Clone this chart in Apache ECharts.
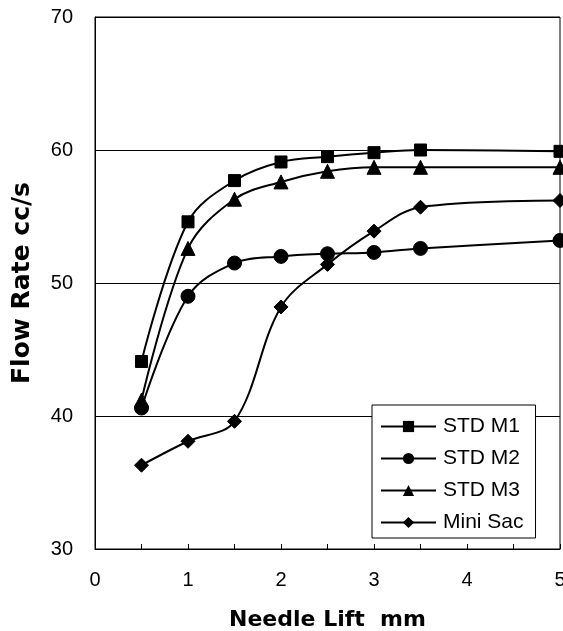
<!DOCTYPE html>
<html><head><meta charset="utf-8">
<script src="https://cdn.jsdelivr.net/npm/echarts@6/dist/echarts.min.js"></script>
<style>html,body{margin:0;padding:0;background:#fff}#c{width:563px;height:631px}</style>
</head><body><div id="c"></div>
<script>
var lift = [0.5, 1, 1.5, 2, 2.5, 3, 3.5, 5];
var stdM1 = [44.1, 54.6, 57.7, 59.1, 59.5, 59.8, 60.0, 59.9];
var stdM2 = [40.6, 49.0, 51.5, 52.0, 52.2, 52.3, 52.6, 53.2];
var stdM3 = [41.2, 52.6, 56.3, 57.6, 58.4, 58.7, 58.7, 58.7];
var miniSac = [36.3, 38.1, 39.6, 48.2, 51.4, 53.9, 55.7, 56.2];
var names = ['STD M1', 'STD M2', 'STD M3', 'Mini Sac'];
var symbols = ['rect', 'circle', 'triangle', 'diamond'];
var sizes = [12, 14, 14, 14];
var all = [stdM1, stdM2, stdM3, miniSac];

function pairs(v){ return lift.map(function(x,i){return [x, v[i]];}); }

var font = 'Liberation Sans, Arial, sans-serif';
var titleFont = 'DejaVu Sans, Liberation Sans, sans-serif';
var chart = echarts.init(document.getElementById('c'));
chart.setOption({
  backgroundColor: '#fff',
  animation: false,
  grid: {left: 95, right: 3, top: 17, bottom: 82, show: true, borderColor: '#000', borderWidth: 1,
         backgroundColor: 'transparent', outerBoundsMode: 'none', containLabel: false},
  legend: {
    orient: 'vertical', left: 372, top: 405,
    data: names,
    itemWidth: 55, itemHeight: 14, itemGap: 11,
    borderColor: '#000', borderWidth: 1, backgroundColor: '#fff',
    padding: [11, 12, 5, 8],
    textStyle: {fontFamily: font, fontSize: 21, color: '#000', padding: [0, 0, 0, 2]}
  },
  xAxis: {
    type: 'value', min: 0, max: 5, interval: 1,
    name: 'Needle Lift  mm', nameLocation: 'middle', nameGap: 60,
    nameTextStyle: {fontFamily: titleFont, fontSize: 22, fontWeight: 'bold', color: '#000'},
    axisLine: {lineStyle: {color: '#000', width: 1}},
    axisTick: {show: true, inside: true, length: 5, lineStyle: {color: '#000'}},
    minorTick: {show: true, splitNumber: 2, length: 5, lineStyle: {color: '#000'}},
    axisLabel: {fontFamily: font, fontSize: 20, color: '#000', margin: 21},
    splitLine: {show: false}
  },
  yAxis: {
    type: 'value', min: 30, max: 70, interval: 10,
    name: 'Flow Rate cc/s', nameLocation: 'middle', nameGap: 60,
    nameTextStyle: {fontFamily: titleFont, fontSize: 25, fontWeight: 'bold', color: '#000'},
    axisLine: {show: true, lineStyle: {color: '#000', width: 1}},
    axisTick: {show: false},
    axisLabel: {fontFamily: font, fontSize: 20, color: '#000', margin: 22},
    splitLine: {show: true, lineStyle: {color: '#000', width: 1}}
  },
  series: all.map(function(v, k){
    return {
      name: names[k], type: 'line', data: pairs(v), smooth: 0.35,
      symbol: symbols[k], symbolSize: sizes[k], showSymbol: true,
      clip: false,
      lineStyle: {color: '#000', width: 2},
      itemStyle: {color: '#000', borderColor: '#000'}
    };
  })
});
</script></body></html>
